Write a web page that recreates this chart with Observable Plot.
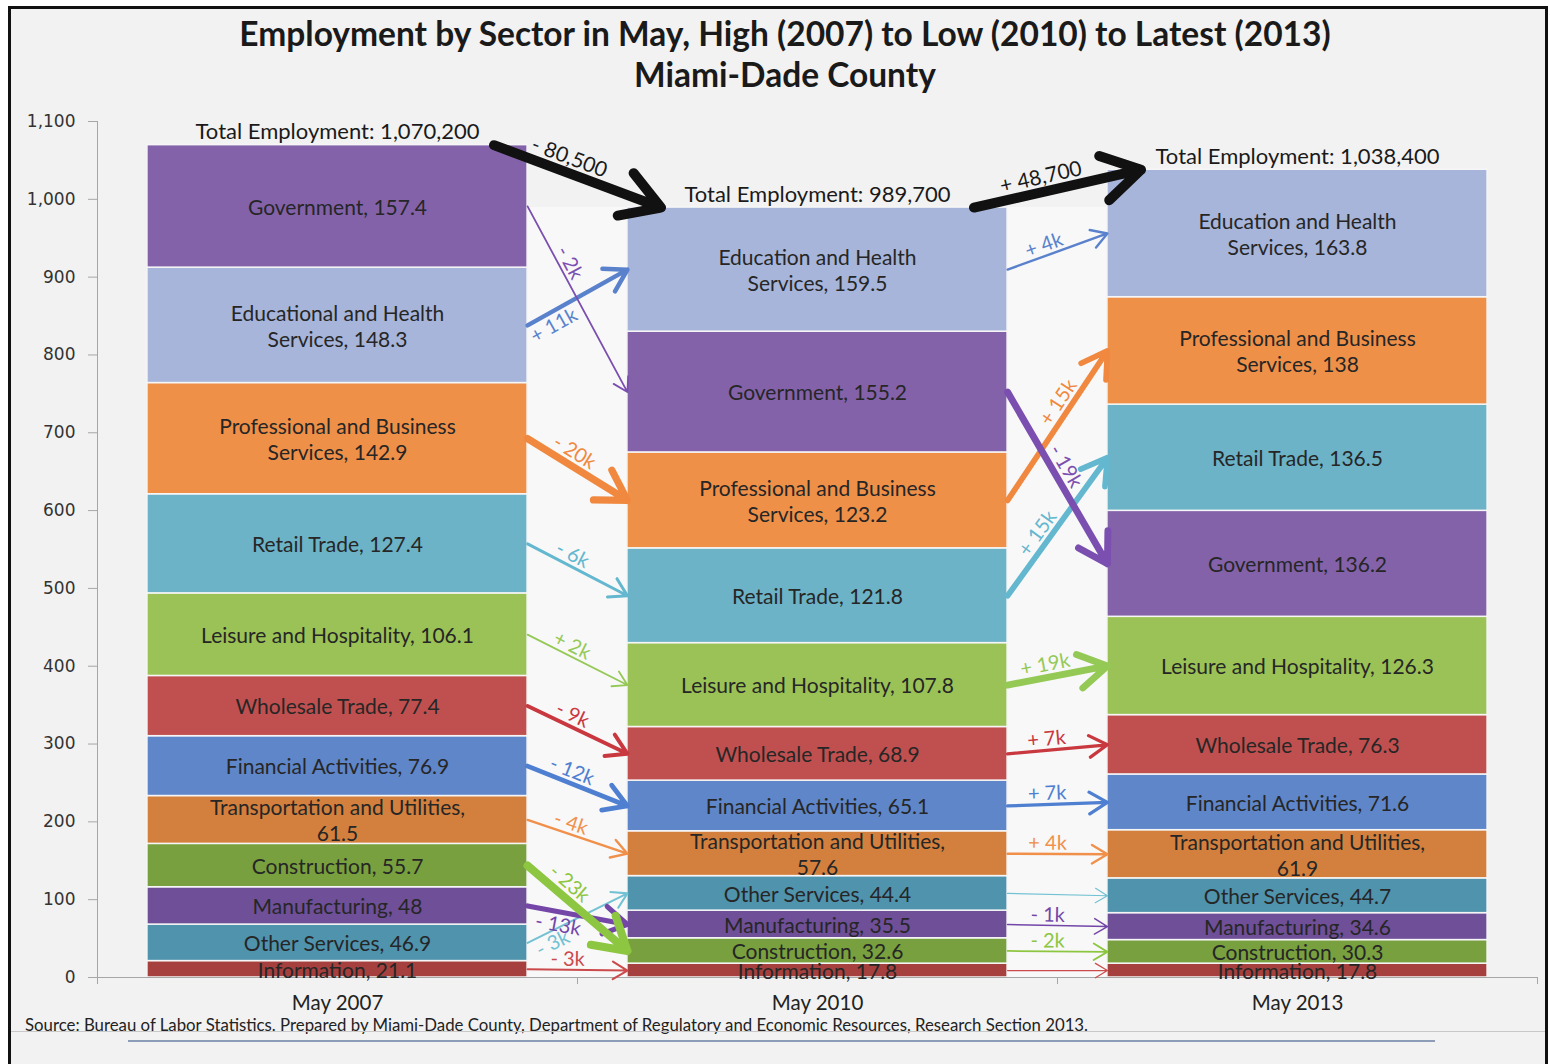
<!DOCTYPE html>
<html>
<head>
<meta charset="utf-8">
<script src="https://cdn.jsdelivr.net/npm/d3@7"></script>
<script src="https://cdn.jsdelivr.net/npm/@observablehq/plot@0.6"></script>
<style>
  html, body { margin: 0; padding: 0; background: #ffffff; width: 1550px; height: 1064px; overflow: hidden; }
  #frame { position: absolute; left: 8px; top: 6px; width: 1540px; height: 1080px; border: 3px solid #111; background: #f2f2f2; box-sizing: border-box; }
  #title { position: absolute; left: 0; top: 13px; width: 1570px; text-align: center; font-family: Lato, sans-serif; font-weight: bold; font-size: 33.5px; line-height: 41px; color: #1a1a1a; }
  #chart { position: absolute; left: 0; top: 100px; }
  #source { position: absolute; left: 25px; top: 1014px; font-family: Lato, sans-serif; font-size: 16.8px; color: #222; white-space: nowrap; }
  #line1 { position: absolute; left: 11px; top: 1031px; width: 1534px; height: 1px; background: #c8c8c8; }
  #line2 { position: absolute; left: 128px; top: 1040px; width: 1307px; height: 2px; background: #8d9db8; }
</style>
</head>
<body>
<div id="frame"></div>
<div id="title">Employment by Sector in May, High (2007) to Low (2010) to Latest (2013)<br>Miami-Dade County</div>
<div id="chart"></div>
<div id="source">Source: Bureau of Labor Statistics. Prepared by Miami-Dade County, Department of Regulatory and Economic Resources, Research Section 2013.</div>
<div id="line1"></div>
<div id="line2"></div>
<script>
// ---------------- DATA ----------------
const years = ["May 2007", "May 2010", "May 2013"];
const sectors = [
  "Information", "Other Services", "Manufacturing", "Construction",
  "Transportation and Utilities", "Financial Activities", "Wholesale Trade",
  "Leisure and Hospitality", "Retail Trade", "Professional and Business Services",
  "Education and Health Services", "Government"
];
const nameEd2007 = "Educational and Health Services";
// thousands of jobs, same order as sectors
const values2007 = [21.1, 46.9, 48, 55.7, 61.5, 76.9, 77.4, 106.1, 127.4, 142.9, 148.3, 157.4];
const values2010 = [17.8, 44.4, 35.5, 32.6, 57.6, 65.1, 68.9, 107.8, 121.8, 123.2, 159.5, 155.2];
const values2013 = [17.8, 44.7, 34.6, 30.3, 61.9, 71.6, 76.3, 126.3, 136.5, 138, 163.8, 136.2];
const totals = [1070200, 989700, 1038400];
const yTicks = [0, 100, 200, 300, 400, 500, 600, 700, 800, 900, 1000, 1100];

// ---------------- STYLE ----------------
const fillColors = ["#a5403f", "#4f93ad", "#6e4f98", "#78a03e", "#d3803e", "#5f86c9",
                    "#c0504f", "#9bc257", "#6cb3c7", "#ef9049", "#a6b5d9", "#8362aa"];
const arrowColors = ["#cc4a4b", "#72c2d3", "#7346a8", "#8dc641", "#f0904a", "#4f7fd0",
                     "#c9373f", "#94c956", "#63b7cf", "#f0893f", "#5a82cc", "#7b4fb0"];
const FONT = "Lato, sans-serif";
const HW = 0.396;        // half bar width in category units
const BIG_INSET = 0.07;  // big arrows start/end inside the bars
const LABEL_FS = 20;     // arrow label font size

// ---------------- DERIVED TABLES ----------------
const valuesByYear = [values2007, values2010, values2013];
const segs = [];
const tops = [];
valuesByYear.forEach((vals, yi) => {
  const order = d3.sort(d3.range(sectors.length), i => vals[i]);
  let acc = 0;
  for (const si of order) {
    segs.push({yi, si, sector: sectors[si], value: vals[si], y1: acc, y2: acc + vals[si]});
    acc += vals[si];
  }
  tops.push(acc);
});
const segOf = (yi, si) => segs.find(s => s.yi === yi && s.si === si);

function segLabel(s) {
  const v = String(s.value);
  const name = (s.si === 10 && s.yi === 0) ? nameEd2007 : s.sector;
  if (s.si === 4) return name + ",\n" + v;
  if (s.si === 9 || s.si === 10) return name.replace(/ Services$/, "\nServices") + ", " + v;
  return name + ", " + v;
}

const arrows = [];
for (let yi = 0; yi < 2; ++yi) {
  for (let si = 0; si < sectors.length; ++si) {
    const a = segOf(yi, si), b = segOf(yi + 1, si);
    const tenths = Math.round(b.value * 10) - Math.round(a.value * 10);
    const k = Math.sign(tenths) * Math.floor((Math.abs(tenths) + 5) / 10);
    arrows.push({
      gap: yi, si, k,
      x1: yi + HW, y1: (a.y1 + a.y2) / 2,
      x2: yi + 1 - HW, y2: (b.y1 + b.y2) / 2,
      sw: 1.2 + 0.3 * Math.abs(k),
      head: 14 + Math.abs(k),
      color: arrowColors[si],
      label: k === 0 ? "" : (k > 0 ? "+ " : "- ") + Math.abs(k) + "k"
    });
  }
}

const bigArrows = [0, 1].map(i => {
  const d = totals[i + 1] - totals[i];
  return {
    x1: i + HW - BIG_INSET, y1: tops[i],
    x2: i + 1 - HW + BIG_INSET, y2: tops[i + 1],
    sw: 10, head: 44,
    label: (d > 0 ? "+ " : "- ") + d3.format(",")(Math.abs(d))
  };
});

const gaps = [0, 1].map(i => ({x1: i + HW, x2: i + 1 - HW, top: Math.min(tops[i], tops[i + 1])}));

// ---------------- PLOT ----------------
const base = {
  width: 1550, height: 920,
  marginLeft: 97, marginRight: 13, marginTop: 21, marginBottom: 43,
  x: {type: "linear", domain: [-0.5, 2.5]},
  y: {domain: [0, 1100]},
  color: {domain: sectors, range: fillColors},
  style: {background: "transparent", fontFamily: FONT, overflow: "visible"}
};

const probe = Plot.plot({...base, marks: [Plot.ruleX([-0.5]), Plot.ruleY([0])]});
const sx = probe.scale("x"), sy = probe.scale("y");

// ---- label placement along arrows (greedy, avoids other arrows and labels) ----
function geom(a) {
  const p1 = [sx.apply(a.x1), sy.apply(a.y1)], p2 = [sx.apply(a.x2), sy.apply(a.y2)];
  const len = Math.hypot(p2[0] - p1[0], p2[1] - p1[1]);
  const u = [(p2[0] - p1[0]) / len, (p2[1] - p1[1]) / len];
  const n = [u[1], -u[0]]; // points "up" for rightward arrows
  return {p1, p2, u, n, len, angle: Math.atan2(u[1], u[0]) * 180 / Math.PI};
}
function distSeg(p, a, b) {
  const dx = b[0] - a[0], dy = b[1] - a[1];
  let t = ((p[0] - a[0]) * dx + (p[1] - a[1]) * dy) / (dx * dx + dy * dy);
  t = Math.max(0, Math.min(1, t));
  return Math.hypot(p[0] - a[0] - t * dx, p[1] - a[1] - t * dy);
}
arrows.forEach(a => a.g = geom(a));
const placed = [];
const labelOrder = d3.sort(arrows.filter(a => a.label), a => -Math.abs(a.k));
const tCands = [0.4, 0.33, 0.47, 0.26, 0.54, 0.2, 0.61, 0.68, 0.74];
for (const a of labelOrder) {
  const {p1, p2, u, n} = a.g;
  const w = a.label.length * LABEL_FS * 0.5, hh = LABEL_FS * 0.38;
  const gl = sx.apply(a.gap + HW), gr = sx.apply(a.gap + 1 - HW);
  let best = null;
  for (const side of [1, -1]) {
    for (const t of tCands) {
      const off = a.sw / 2 + 3;
      const base = [p1[0] + t * (p2[0] - p1[0]) + side * n[0] * off, p1[1] + t * (p2[1] - p1[1]) + side * n[1] * off];
      const c = [base[0] + side * n[0] * (hh + 1), base[1] + side * n[1] * (hh + 1)];
      let pen = Math.abs(t - 0.4) * 2 + (side < 0 ? 0.8 : 0);
      for (let i = 0; i <= 8; ++i) for (let j = 0; j <= 3; ++j) {
        const s = -w / 2 + w * i / 8, r = -hh + 2 * hh * j / 3;
        const p = [c[0] + u[0] * s + n[0] * r, c[1] + u[1] * s + n[1] * r];
        for (const o of arrows) {
          if (o.gap !== a.gap) continue;
          if (o === a) {
            if (Math.hypot(p[0] - o.g.p2[0], p[1] - o.g.p2[1]) < o.head + 3) pen += 1;
            continue;
          }
          const d = distSeg(p, o.g.p1, o.g.p2);
          if (d < o.sw / 2 + 2) pen += 1;
          else if (d < o.sw / 2 + 7) pen += 0.35;
          if (Math.hypot(p[0] - o.g.p2[0], p[1] - o.g.p2[1]) < o.head * 0.8) pen += 0.6;
        }
        for (const q of placed) {
          const dx = p[0] - q.c[0], dy = p[1] - q.c[1];
          if (Math.abs(dx * q.u[0] + dy * q.u[1]) < q.w / 2 + 8 && Math.abs(dx * q.n[0] + dy * q.n[1]) < q.hh + 7) pen += 2;
        }
        if (p[0] < gl - 3 || p[0] > gr + 3) pen += 1;
      }
      if (!best || pen < best.pen) best = {pen, side, base, c};
    }
  }
  placed.push({c: best.c, u, n, w, hh});
  a.lx = sx.invert(best.base[0]);
  a.ly = sy.invert(best.base[1]);
  a.side = best.side;
  a.angle = a.g.angle;
}
const bigLabels = bigArrows.map(a => {
  const g = geom(a), t = 0.42, off = a.sw / 2 + 3;
  const px = g.p1[0] + t * (g.p2[0] - g.p1[0]) + g.n[0] * off;
  const py = g.p1[1] + t * (g.p2[1] - g.p1[1]) + g.n[1] * off;
  return {...a, lx: sx.invert(px), ly: sy.invert(py), angle: g.angle};
});

// one arrow mark per arrow so that width and head size are exact constants
const arrowMark = (a, stroke) => Plot.arrow([a], {
  x1: "x1", y1: "y1", x2: "x2", y2: "y2",
  stroke, strokeWidth: a.sw, headLength: a.head * 1.5 / a.sw, headAngle: 62
});

const chart = Plot.plot({
  ...base,
  marks: [
    Plot.rect(gaps, {x1: "x1", x2: "x2", y1: 0, y2: "top", fill: "#f8f8f8"}),
    Plot.ruleX([-0.5], {y1: 0, y2: 1100, stroke: "#a6a6a6"}),
    Plot.axisY({ticks: yTicks, tickFormat: d3.format(","), tickSize: 9, tickPadding: 13,
                fontSize: 17, fontFamily: "DejaVu Sans", fill: "#333", stroke: "#a6a6a6", label: null}),
    Plot.axisX({ticks: [-0.5, 0.5, 1.5, 2.5], tickFormat: () => "", tickSize: 7, stroke: "#a6a6a6", label: null}),
    Plot.axisX({ticks: [0, 1, 2], tickFormat: i => years[i], tickSize: 0, tickPadding: 18,
                fontSize: 20.5, fontFamily: FONT, fill: "#222", label: null}),
    Plot.rect(segs, {x1: d => d.yi - HW, x2: d => d.yi + HW, y1: "y1", y2: "y2",
                     fill: "sector", stroke: "#f6f6f6", strokeWidth: 1.5}),
    Plot.ruleY([0], {x1: -0.5, x2: 2.5, stroke: "#a6a6a6"}),
    Plot.text(segs, {x: "yi", y: d => (d.y1 + d.y2) / 2, text: segLabel,
                     fontSize: 21, lineHeight: 1.24, fill: "#262626", fontFamily: FONT}),
    Plot.text([0, 1, 2], {x: i => i, y: i => tops[i], text: i => "Total Employment: " + d3.format(",")(totals[i]),
                          lineAnchor: "bottom", dy: -6, fontSize: 22, fill: "#1a1a1a", fontFamily: FONT}),
    ...arrows.map(a => arrowMark(a, a.color)),
    Plot.text(arrows.filter(a => a.label && a.side > 0), {x: "lx", y: "ly", text: "label", rotate: "angle",
              lineAnchor: "bottom", fill: "color", fontSize: LABEL_FS, fontFamily: FONT}),
    Plot.text(arrows.filter(a => a.label && a.side < 0), {x: "lx", y: "ly", text: "label", rotate: "angle",
              lineAnchor: "top", fill: "color", fontSize: LABEL_FS, fontFamily: FONT}),
    ...bigArrows.map(a => arrowMark(a, "#111")),
    Plot.text(bigLabels, {x: "lx", y: "ly", text: "label", rotate: "angle", lineAnchor: "bottom",
                          fill: "#1a1a1a", fontSize: 21, fontFamily: FONT})
  ]
});
document.getElementById("chart").appendChild(chart);
</script>
</body>
</html>
